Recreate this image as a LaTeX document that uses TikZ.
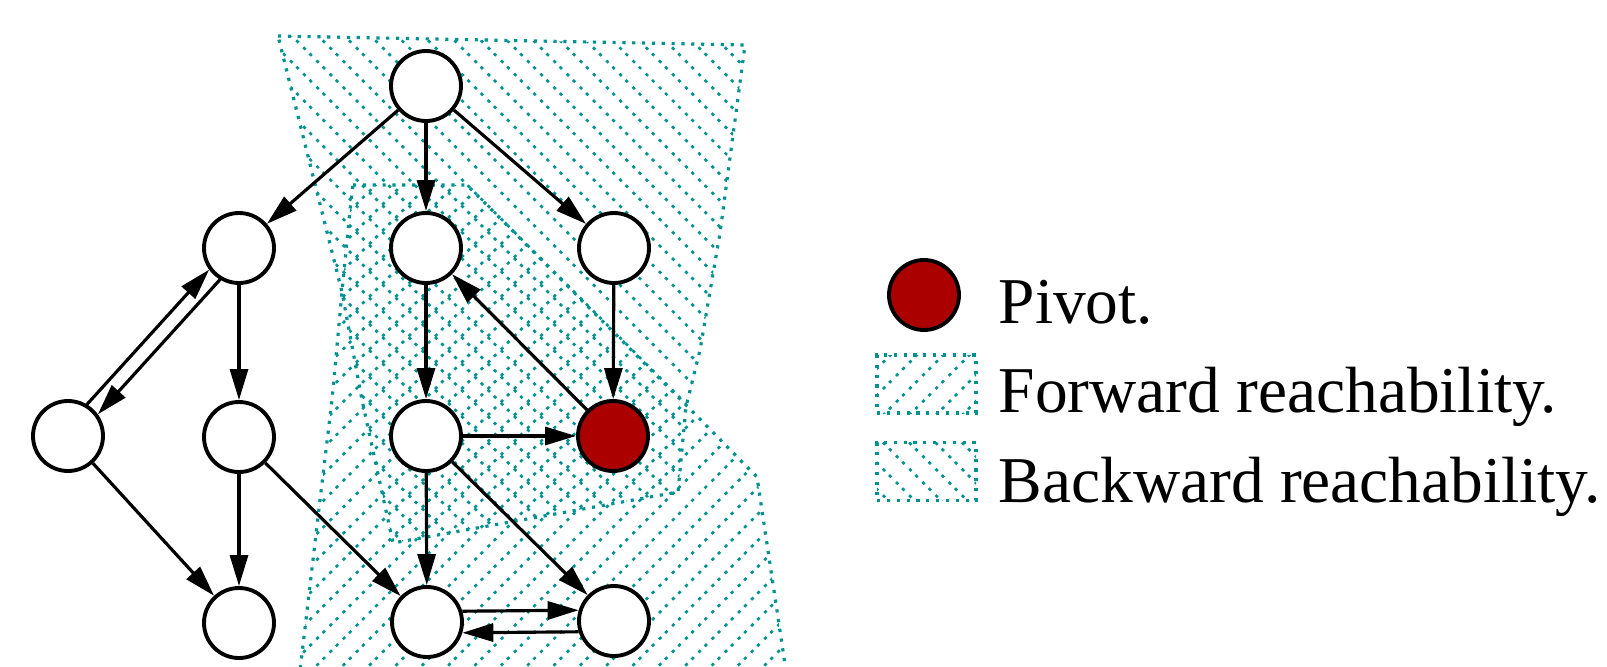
\documentclass[tikz,border=0pt]{standalone}
\usepackage{fontspec}
\setmainfont{Liberation Serif}
\usepackage{tikz}
\usetikzlibrary{arrows.meta,positioning,patterns.meta}
\definecolor{reach}{RGB}{0,145,145}
\definecolor{pivred}{RGB}{170,0,0}

\begin{document}
\begin{tikzpicture}[
    vtx/.style={circle, draw=black, line width=1.1pt, fill=white, minimum size=0.7cm, inner sep=0pt},
    link/.style={-{Triangle[length=3.1mm,width=1.8mm]}, line width=0.9pt},
    region/.style={draw=reach, line width=0.9pt, dash pattern=on 0.9pt off 1.9pt, pattern color=reach},
    fwd/.style={region, pattern={Lines[angle=45,distance=5.3pt,line width=0.75pt]}},
    bwd/.style={region, pattern={Lines[angle=-45,distance=5.3pt,line width=0.75pt]}},
    legtext/.style={anchor=base west, inner sep=0pt, font=\fontsize{18.6}{22}\selectfont}
]
\useasboundingbox (0,0) rectangle (16.07,6.66);

% backward reachability
\draw[bwd] (2.78,6.30) -- (7.45,6.21) -- (7.20,4.33) -- (7.00,3.16) -- (6.86,2.59)
    -- (6.78,1.74) -- (3.93,1.23) -- (3.62,2.66) -- (3.42,3.74) -- cycle;
% forward reachability
\draw[fwd] (3.53,4.81) -- (4.67,4.81) -- (6.86,2.61) -- (7.57,1.89) -- (7.86,-0.05)
    -- (3.00,-0.05) -- (3.20,1.66) -- (3.32,2.66) -- (3.42,3.74) -- (3.50,4.56) -- cycle;

% vertices
\node[vtx] (a)  at (4.26,5.80) {};
\node[vtx] (b1) at (2.39,4.18) {};
\node[vtx] (b2) at (4.26,4.18) {};
\node[vtx] (b3) at (6.14,4.18) {};
\node[vtx] (c0) at (0.68,2.30) {};
\node[vtx] (c1) at (2.39,2.29) {};
\node[vtx] (c2) at (4.26,2.30) {};
\node[vtx, fill=pivred] (piv) at (6.13,2.30) {};
\node[vtx] (d1) at (2.39,0.43) {};
\node[vtx] (d2) at (4.27,0.44) {};
\node[vtx] (d3) at (6.14,0.45) {};

% edges
\draw[link] (a) -- (b1);
\draw[link] (a) -- (b2);
\draw[link] (a) -- (b3);
\draw[link] (c0.59) -- (b1.216);
\draw[link] (b1.239) -- (c0.36);
\draw[link] (b1) -- (c1);
\draw[link] (c0) -- (d1);
\draw[link] (c1) -- (d1);
\draw[link] (c1) -- (d2);
\draw[link] (b2) -- (c2);
\draw[link] (b3) -- (piv);
\draw[link] (piv) -- (b2);
\draw[link] (c2) -- (piv);
\draw[link] (c2) -- (d2);
\draw[link] (c2) -- (d3);
\draw[link] (d2.17) -- (d3.163);
\draw[link] (d3.-163) -- (d2.-17);

% legend
\node[vtx, fill=pivred] (lpiv) at (9.24,3.71) {};
\node[legtext] (tpiv) at (9.98,3.43) {Pivot.};
\node[fwd, minimum width=0.99cm, minimum height=0.58cm, inner sep=0pt] (lfwd) at (9.265,2.82) {};
\node[legtext] (tfwd) at (9.98,2.54) {Forward reachability.};
\node[bwd, minimum width=0.99cm, minimum height=0.58cm, inner sep=0pt] (lbwd) at (9.265,1.945) {};
\node[legtext] (tbwd) at (9.98,1.64) {Backward reachability.};
\end{tikzpicture}
\end{document}
